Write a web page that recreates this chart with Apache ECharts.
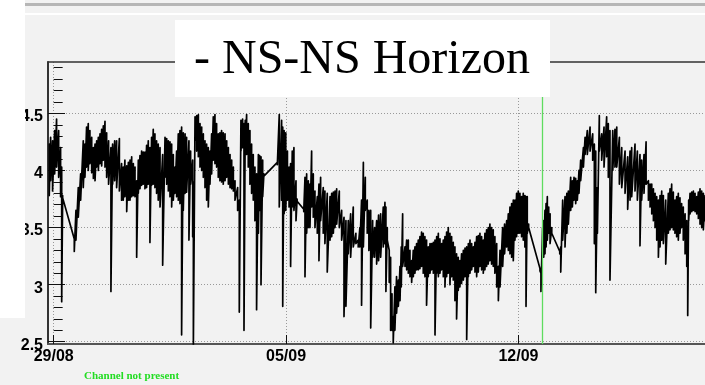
<!DOCTYPE html>
<html>
<head>
<meta charset="utf-8">
<title>NS-NS Horizon</title>
<script src="https://cdn.jsdelivr.net/npm/echarts@6/dist/echarts.min.js"></script>
<style>
  html, body { margin: 0; padding: 0; background: #f2f2f2; }
  #chart { width: 705px; height: 385px; }
</style>
</head>
<body>
<div id="chart"></div>
<script>
// Time in hours since 29/08 00:00, with the upper and lower envelope (V) of the trace at that time.
const hours = [
  -3.2, -2.2, -0.8, 0.7, 2.1, 3.6, 5.0, 5.8, 6.5, 14.2, 14.9, 16.1, 17.8, 19.5,
  21.4, 22.6, 23.8, 25.0, 26.2, 27.5, 28.7, 29.9, 31.1, 32.3, 33.5, 34.7, 35.9, 37.1,
  38.3, 39.7, 41.4, 42.6, 44.1, 45.5, 47.5, 49.1, 50.3, 51.5, 52.8, 54.0, 55.2, 56.4,
  57.6, 58.8, 60.0, 61.2, 62.4, 63.6, 64.8, 66.0, 67.2, 68.4, 69.6, 70.8, 72.0, 73.2,
  74.4, 75.6, 76.9, 78.8, 80.5, 81.7, 82.9, 84.1, 85.3, 86.5, 87.7, 88.9, 90.1, 91.3,
  92.5, 93.7, 95.0, 96.1, 97.8, 99.0, 100.5, 101.0, 102.2, 103.4, 104.6, 105.8, 107.0, 108.2,
  109.4, 110.6, 111.8, 113.0, 114.2, 115.4, 116.6, 117.8, 119.0, 120.2, 121.4, 122.6, 123.9, 125.1,
  126.3, 127.5, 128.7, 129.9, 131.1, 133.0, 134.2, 135.4, 136.6, 137.6, 138.5, 139.5, 140.7, 141.9,
  143.1, 144.3, 145.5, 146.7, 148.0, 148.9, 149.9, 151.1, 152.0, 161.7, 163.1, 164.8, 165.6, 166.6,
  167.8, 169.0, 170.2, 171.3, 172.5, 173.7, 175.2, 176.0, 180.8, 181.7, 182.9, 184.1, 185.3, 186.5,
  187.7, 188.9, 190.6, 191.8, 193.0, 194.9, 196.1, 197.8, 199.8, 201.0, 202.2, 203.4, 204.6, 206.5,
  208.2, 209.9, 211.3, 213.0, 214.7, 216.6, 218.5, 220.2, 221.4, 222.6, 223.9, 225.3, 226.7, 227.9,
  229.2, 230.6, 232.0, 233.5, 234.9, 236.4, 238.3, 239.5, 240.2, 241.2, 242.6, 243.6, 244.6, 245.5,
  246.7, 247.9, 249.2, 250.4, 251.3, 252.3, 254.0, 255.2, 256.4, 257.6, 258.8, 260.0, 261.2, 262.4,
  263.6, 264.8, 266.0, 267.2, 268.4, 269.6, 270.8, 272.1, 273.3, 274.5, 275.7, 276.9, 278.1, 279.3,
  280.5, 281.7, 282.9, 284.1, 285.3, 286.5, 287.7, 288.9, 290.1, 291.3, 292.5, 293.7, 294.9, 296.2,
  297.4, 298.6, 299.8, 301.0, 302.2, 303.4, 304.6, 305.8, 307.0, 308.2, 309.4, 310.6, 311.8, 313.0,
  314.2, 315.4, 316.6, 317.8, 319.0, 320.3, 321.5, 322.7, 324.6, 326.0, 327.5, 328.7, 329.9, 331.1,
  332.3, 333.5, 334.7, 335.9, 337.1, 338.3, 339.5, 340.7, 341.5, 342.4, 343.4, 351.6, 352.3, 353.5,
  354.3, 355.2, 356.0, 356.9, 357.9, 358.9, 360.1, 365.9, 366.6, 368.0, 369.7, 371.0, 372.1, 373.8,
  375.0, 376.2, 377.4, 378.6, 379.8, 381.0, 383.0, 384.2, 385.8, 387.8, 389.7, 390.9, 391.9, 393.1,
  394.5, 396.2, 397.9, 399.8, 401.0, 402.2, 404.2, 405.8, 407.1, 409.0, 410.7, 413.1, 415.0, 416.7,
  417.9, 420.3, 422.0, 423.9, 425.1, 426.8, 428.3, 430.0, 431.2, 432.4, 433.6, 434.8, 436.0, 437.2,
  438.4, 439.6, 440.8, 442.5, 444.4, 445.6, 446.8, 448.0, 449.2, 450.4, 451.6, 452.8, 454.0, 455.2,
  456.5, 457.7, 458.4, 459.1, 460.1, 461.3, 462.5, 463.7, 464.9, 466.1, 467.3, 468.5, 469.7, 471.0
];
const highV = [
  4.23, 4.29, 4.26, 4.35, 4.45, 4.35, 4.20, 4.03, 3.78, 3.43, 3.40, 3.65, 3.85, 3.97,
  4.26, 4.23, 4.38, 4.41, 4.35, 4.29, 4.20, 4.23, 4.26, 4.29, 4.32, 4.36, 4.39, 4.43,
  4.33, 4.26, 4.20, 4.23, 4.26, 4.26, 4.28, 4.06, 4.03, 4.09, 4.04, 4.07, 4.09, 4.12,
  4.06, 4.03, 3.91, 4.09, 4.13, 4.17, 4.16, 4.16, 4.22, 4.26, 4.20, 4.29, 4.36, 4.32,
  4.26, 4.23, 4.20, 4.14, 4.29, 4.28, 4.26, 4.25, 4.23, 4.14, 4.03, 4.17, 4.32, 4.35,
  4.38, 4.33, 4.32, 4.29, 4.26, 4.17, 4.09, 3.90, 4.47, 4.48, 4.49, 4.41, 4.38, 4.32,
  4.26, 4.23, 4.20, 4.17, 4.32, 4.47, 4.49, 4.41, 4.32, 4.33, 4.35, 4.33, 4.32, 4.26,
  4.20, 4.14, 4.09, 4.03, 3.91, 3.85, 3.74, 4.44, 4.45, 4.41, 4.44, 4.49, 4.41, 4.35,
  4.23, 4.14, 4.03, 3.97, 4.14, 4.13, 4.12, 4.09, 3.97, 4.07, 4.49, 4.44, 4.38, 4.35,
  4.33, 4.17, 4.03, 4.06, 4.17, 4.20, 3.91, 3.75, 3.66, 3.94, 3.97, 3.91, 3.88, 4.17,
  3.97, 3.82, 3.77, 3.88, 3.94, 3.85, 3.82, 3.80, 3.77, 3.80, 3.81, 3.82, 3.84, 3.82,
  3.65, 3.59, 3.56, 3.56, 3.62, 3.68, 3.45, 3.39, 3.50, 3.74, 4.07, 3.94, 3.74, 3.65,
  3.65, 3.56, 3.50, 3.56, 3.61, 3.62, 3.68, 3.72, 3.68, 3.50, 3.30, 3.24, 2.92, 2.72,
  2.98, 3.07, 3.04, 3.16, 3.33, 3.62, 3.33, 3.39, 3.39, 3.30, 3.21, 3.30, 3.33, 3.36,
  3.39, 3.42, 3.46, 3.45, 3.42, 3.39, 3.33, 3.36, 3.36, 3.37, 3.39, 3.42, 3.45, 3.40,
  3.36, 3.39, 3.42, 3.46, 3.50, 3.45, 3.42, 3.37, 3.33, 3.27, 3.24, 3.21, 3.27, 3.30,
  3.32, 3.33, 3.36, 3.39, 3.36, 3.33, 3.37, 3.42, 3.43, 3.45, 3.42, 3.39, 3.45, 3.48,
  3.50, 3.53, 3.50, 3.48, 3.42, 3.36, 3.16, 3.30, 3.50, 3.53, 3.56, 3.62, 3.68, 3.71,
  3.74, 3.74, 3.80, 3.82, 3.80, 3.77, 3.80, 3.78, 3.77, 3.77, 3.53, 3.14, 3.10, 3.50,
  3.56, 3.65, 3.71, 3.77, 3.68, 3.62, 3.50, 3.29, 3.33, 3.74, 3.77, 3.80, 3.82, 3.94,
  3.91, 3.94, 3.93, 3.91, 4.00, 4.09, 4.20, 4.29, 4.35, 4.38, 4.32, 4.23, 4.17, 3.85,
  4.48, 4.32, 4.38, 4.47, 4.41, 4.35, 4.35, 4.36, 4.38, 4.29, 4.20, 4.17, 4.12, 4.17,
  4.20, 4.23, 4.17, 4.14, 4.09, 4.14, 4.25, 3.91, 3.88, 3.88, 3.84, 3.80, 3.77, 3.74,
  3.78, 3.82, 3.78, 3.74, 3.80, 3.84, 3.88, 3.81, 3.74, 3.77, 3.80, 3.76, 3.71, 3.68,
  3.62, 3.56, 3.50, 3.74, 3.80, 3.81, 3.82, 3.80, 3.77, 3.81, 3.84, 3.82, 3.80, 3.78
];
const lowV = [
  3.78, 3.91, 3.82, 3.97, 4.03, 3.94, 3.77, 2.85, 3.76, 3.42, 3.29, 3.39, 3.59, 3.74,
  3.85, 3.94, 4.03, 4.00, 4.06, 3.98, 3.93, 3.91, 4.03, 4.00, 4.06, 4.04, 4.09, 4.03,
  3.94, 3.88, 2.94, 3.88, 3.91, 3.85, 3.82, 3.74, 3.74, 3.77, 3.64, 3.74, 3.74, 3.77,
  3.78, 3.77, 3.24, 3.80, 3.84, 3.87, 3.88, 3.84, 3.85, 3.88, 3.37, 3.87, 3.88, 3.85,
  3.80, 3.74, 3.68, 3.17, 3.94, 3.88, 3.82, 3.77, 3.68, 3.74, 3.80, 3.77, 3.74, 3.71,
  2.56, 3.65, 3.80, 3.81, 3.39, 3.88, 3.42, 2.47, 4.26, 4.17, 4.12, 4.03, 4.00, 3.94,
  3.85, 3.74, 3.68, 3.88, 3.97, 4.09, 4.06, 4.03, 3.94, 3.91, 3.90, 3.88, 3.91, 3.94,
  3.88, 3.85, 3.84, 3.82, 3.74, 3.65, 2.76, 4.17, 4.20, 2.60, 4.17, 4.14, 4.03, 3.88,
  3.80, 3.74, 3.56, 2.78, 3.45, 3.65, 3.00, 3.77, 3.95, 4.05, 3.68, 3.74, 2.81, 3.62,
  3.65, 3.74, 3.68, 3.16, 3.68, 3.65, 3.56, 3.73, 3.64, 3.07, 3.45, 3.50, 3.50, 3.68,
  3.59, 3.50, 3.45, 3.21, 3.56, 3.45, 3.36, 3.11, 3.39, 3.42, 3.45, 3.50, 3.53, 3.50,
  3.39, 2.72, 2.81, 3.27, 3.24, 3.33, 3.36, 3.33, 3.33, 2.82, 3.33, 3.65, 3.45, 3.30,
  2.62, 3.24, 3.24, 3.18, 3.21, 3.24, 3.33, 3.36, 2.94, 3.39, 3.02, 2.60, 2.60, 2.49,
  2.60, 2.75, 2.81, 2.86, 2.98, 3.16, 3.16, 3.13, 3.10, 3.07, 3.02, 3.07, 3.10, 3.13,
  3.13, 3.14, 3.16, 3.10, 3.07, 2.82, 3.07, 3.10, 3.13, 3.10, 2.56, 3.10, 3.07, 3.10,
  3.13, 3.07, 2.98, 3.07, 3.10, 3.00, 3.07, 3.04, 2.86, 2.70, 2.95, 2.98, 3.01, 3.04,
  3.07, 2.52, 3.07, 3.10, 3.13, 3.16, 3.11, 3.07, 3.11, 3.16, 3.13, 3.10, 3.13, 3.16,
  3.18, 3.21, 3.18, 3.16, 3.10, 2.98, 2.86, 2.98, 3.16, 3.27, 3.33, 3.30, 3.27, 3.24,
  3.21, 3.39, 3.42, 3.45, 3.45, 3.42, 3.39, 3.33, 2.81, 3.45, 3.50, 3.12, 2.94, 3.30,
  3.24, 3.27, 3.33, 3.39, 3.45, 3.36, 3.45, 3.27, 3.11, 3.39, 3.33, 3.45, 3.53, 3.65,
  3.68, 3.74, 3.71, 3.74, 3.80, 3.91, 4.03, 4.14, 4.14, 4.17, 4.09, 3.36, 2.93, 3.45,
  4.17, 4.09, 4.03, 4.12, 3.94, 3.04, 4.00, 4.03, 4.03, 3.88, 3.85, 3.80, 3.66, 3.74,
  3.77, 3.82, 3.74, 3.34, 3.74, 3.80, 3.88, 3.74, 3.68, 3.62, 3.56, 3.50, 3.39, 3.24,
  3.33, 3.39, 3.36, 3.18, 3.45, 3.48, 3.50, 3.48, 3.45, 3.42, 3.39, 3.45, 3.50, 3.39,
  3.27, 3.16, 2.73, 3.56, 3.62, 3.64, 3.65, 3.64, 3.62, 3.58, 3.53, 3.50, 3.48, 3.56
];

// Axis ticks and labels
const dayTicks = [0, 168, 336];
const dayLabels = ['29/08', '05/09', '12/09'];
const voltTicks = [2.5, 3, 3.5, 4, 4.5];
const voltMinorStep = 0.1;
const markerHour = 352.9;           // vertical marker line
const titleText = '- NS-NS Horizon';
const noteText = 'Channel not present';

// minor ticks every 0.1 V between the labelled ticks
const voltMinorTicks = [];
for (let v = voltTicks[0]; v < 4.95; v += voltMinorStep) {
  voltMinorTicks.push(Math.round(v * 100) / 100);
}

// envelope drawn as a zig-zag: upper then lower value at each time
const trace = [];
hours.forEach((h, i) => {
  trace.push([h, highV[i]]);
  trace.push([h, lowV[i]]);
});

const labelFont = "'Liberation Sans', Arial, sans-serif";
const xMin = -4.1, xMax = 470.9;
const yMin = 2.48, yMax = 4.95;

const chart = echarts.init(document.getElementById('chart'), null, { renderer: 'canvas' });
chart.setOption({
  animation: false,
  backgroundColor: '#f2f2f2',
  grid: { left: 48, right: 0, top: 62, bottom: 41, containLabel: false },
  xAxis: [
    {
      type: 'value', min: xMin, max: xMax, position: 'bottom',
      axisLine: { show: true, onZero: false, lineStyle: { color: '#555', width: 2 } },
      axisTick: { show: true, inside: true, length: 9, customValues: dayTicks,
                  lineStyle: { color: '#111', width: 1 } },
      axisLabel: {
        show: true, customValues: dayTicks, margin: 5,
        formatter: v => dayLabels[dayTicks.indexOf(v)] || '',
        fontFamily: labelFont, fontWeight: 'bold', fontSize: 16, color: '#000'
      },
      splitLine: { show: true, lineStyle: { color: '#999', width: 1, type: [1, 2] } }
    },
    {
      type: 'value', min: xMin, max: xMax, position: 'top',
      axisLine: { show: true, onZero: false, lineStyle: { color: '#333', width: 1.5 } },
      axisTick: { show: false }, axisLabel: { show: false }, splitLine: { show: false }
    }
  ],
  yAxis: [
    {
      type: 'value', min: yMin, max: yMax, position: 'left',
      axisLine: { show: true, onZero: false, lineStyle: { color: '#333', width: 2 } },
      axisTick: { show: true, inside: true, length: 17, customValues: voltTicks,
                  lineStyle: { color: '#111', width: 1 } },
      axisLabel: {
        show: true, customValues: voltTicks, margin: 5,
        verticalAlign: 'top', lineHeight: 7,
        fontFamily: labelFont, fontWeight: 'bold', fontSize: 16, color: '#000'
      },
      splitLine: { show: true, lineStyle: { color: '#999', width: 1, type: [1, 2] } }
    },
    {
      type: 'value', min: yMin, max: yMax, position: 'left',
      axisLine: { show: false },
      axisTick: { show: true, inside: true, length: 9, customValues: voltMinorTicks,
                  lineStyle: { color: '#111', width: 1 } },
      axisLabel: { show: false }, splitLine: { show: false }
    }
  ],
  series: [
    {
      type: 'line', xAxisIndex: 0, yAxisIndex: 0,
      data: trace, showSymbol: false, symbol: 'none', clip: true,
      lineStyle: { color: '#000', width: 1.7, join: 'round', cap: 'round' },
      markLine: {
        silent: true, symbol: 'none', label: { show: false },
        lineStyle: { color: '#5fdc5f', width: 1.3, type: 'solid' },
        data: [{ xAxis: markerHour }]
      },
      z: 3
    }
  ],
  graphic: [
    // header strip
    { type: 'rect', shape: { x: 0, y: 3, width: 705, height: 3 }, style: { fill: '#b6b6b6' }, z: 90 },
    { type: 'rect', shape: { x: 0, y: 13, width: 705, height: 2 }, style: { fill: '#ffffff' }, z: 90 },
    // left white margin
    { type: 'rect', shape: { x: 0, y: 0, width: 25, height: 318 }, style: { fill: '#ffffff' }, z: 100 },
    // title pave
    { type: 'rect', shape: { x: 175, y: 20, width: 375, height: 77 }, style: { fill: '#ffffff' }, z: 100 },
    { type: 'text', x: 194, y: 60.5, z: 101,
      style: { text: titleText, fill: '#000', font: "48px 'Liberation Serif', 'Times New Roman', serif",
               verticalAlign: 'middle', align: 'left' } },
    { type: 'text', x: 84, y: 376, z: 101,
      style: { text: noteText, fill: '#22dd22', font: "bold 11px 'Liberation Serif', 'Times New Roman', serif",
               verticalAlign: 'middle', align: 'left' } }
  ]
});
</script>
</body>
</html>
